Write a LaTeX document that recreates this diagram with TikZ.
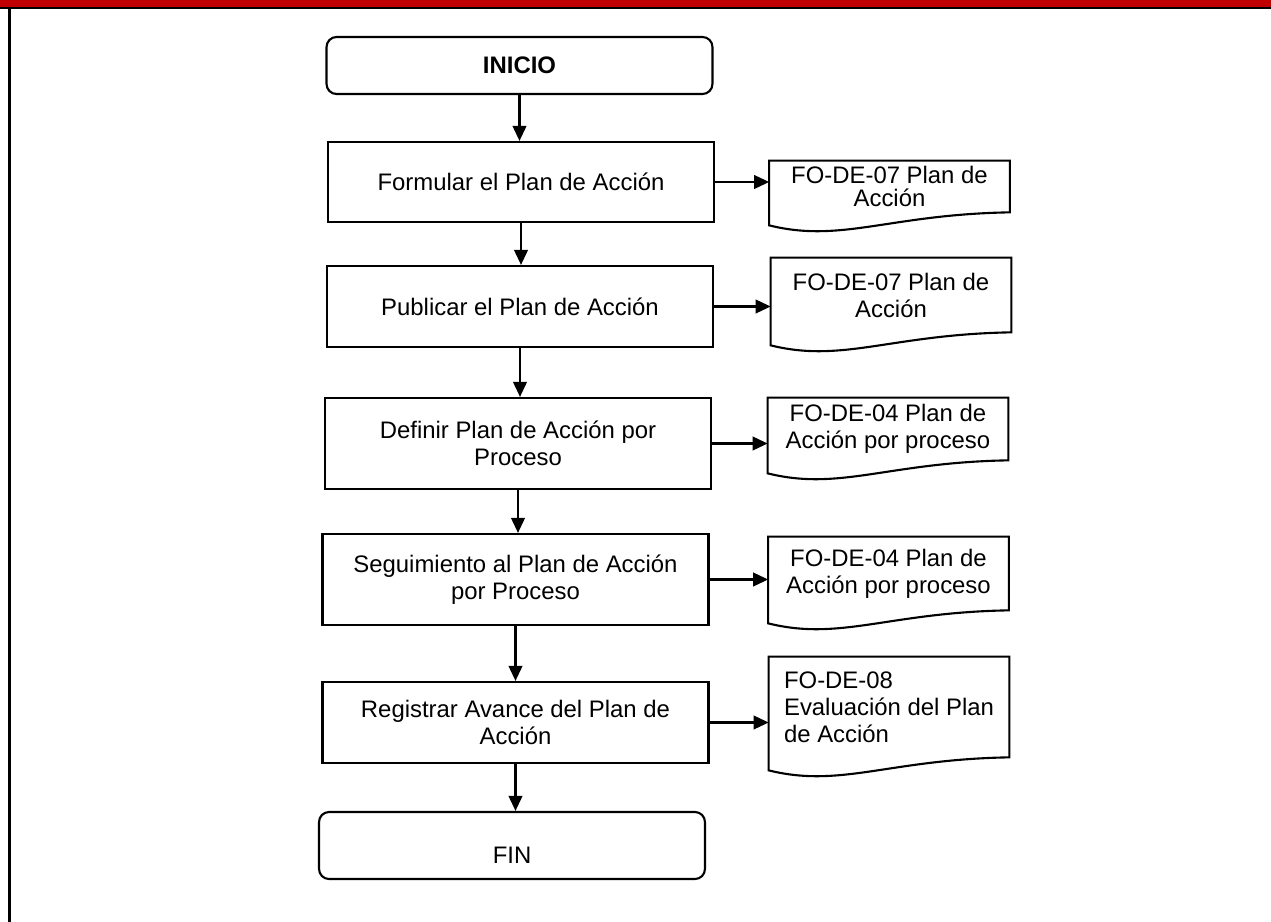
\documentclass[tikz,border=0pt]{standalone}
\usepackage{fontspec}
\setmainfont{Liberation Sans}
\usetikzlibrary{arrows.meta, calc}

\definecolor{barred}{HTML}{C00000}

\begin{document}
\begin{tikzpicture}[x=0.02cm, y=-0.02cm,
        every node/.style={font=\fontsize{13.6}{15.4}\selectfont},
        paso/.style={rectangle, draw, line width=1.2pt, minimum width=7.72cm, align=center, inner sep=2pt},
        terminal/.style={paso, rounded corners=0.2cm},
        docu/.style={rectangle, minimum width=4.8cm, align=center, inner sep=2pt},
        flecha/.style={-{Triangle[length=0.3cm, width=0.27cm]}, line width=1.3pt}
    ]
        \useasboundingbox (0,0) rectangle (1271,922);
        % red heading bar and left rule
        \fill[barred] (0,0) rectangle (1271,7);
        \draw[line width=1.2pt] (0,8) -- (1271,8);
        \draw[line width=1.2pt] (9.5,8) -- (9.5,922);

        \node[terminal, minimum height=1.14cm] (inicio) at (519.5,65.5) {\textbf{INICIO}};
        \node[paso, minimum height=1.6cm] (formular) at (521,182) {Formular el Plan de Acción};
        \node[paso, minimum height=1.62cm] (publicar) at (520,306.5) {Publicar el Plan de Acción};
        \node[paso, minimum height=1.82cm] (definir) at (518,443.5) {Definir Plan de Acción por\\Proceso};
        \node[paso, minimum height=1.82cm] (seguir) at (515.5,579.5) {Seguimiento al Plan de Acción\\por Proceso};
        \node[paso, minimum height=1.62cm] (registrar) at (515.5,722.5) {Registrar Avance del Plan de\\Acción};
        \node[terminal, minimum height=1.34cm, text height=0.7cm] (fin) at (512,845.5) {FIN};

        \node[docu, minimum height=1.02cm, font=\fontsize{13.6}{13.4}\selectfont] (doc1) at (889.5,186.5) {FO-DE-07 Plan de\\Acción};
        \node[docu, minimum height=1.48cm] (doc2) at (891,295) {FO-DE-07 Plan de\\Acción};
        \node[docu, minimum height=1.24cm] (doc3) at (888,429) {FO-DE-04 Plan de\\Acción por proceso};
        \node[docu, minimum height=1.46cm] (doc4) at (888.5,573.5) {FO-DE-04 Plan de\\Acción por proceso};
        \node[docu, align=left, minimum height=2cm] (doc5) at (889,707) {FO-DE-08\\Evaluación del Plan\\de Acción};

        % document outlines with wavy bottom
        \foreach \d in {doc1,doc2,doc3,doc4,doc5}
            \draw[line width=1.2pt] (\d.north west) -- (\d.north east) -- (\d.south east)
                .. controls ($(\d.south)+(0,2)$) and ($(\d.south west)+(72,31)$) .. ($(\d.south west)+(0,13)$) -- cycle;

        \draw[flecha] (inicio.south) -- (inicio.south |- formular.north);
        \draw[flecha] (formular.south) -- (formular.south |- publicar.north);
        \draw[flecha] (publicar.south) -- (publicar.south |- definir.north);
        \draw[flecha] (definir.south) -- (definir.south |- seguir.north);
        \draw[flecha] (seguir.south) -- (seguir.south |- registrar.north);
        \draw[flecha] (registrar.south) -- (registrar.south |- fin.north);

        \draw[flecha] (formular.east) -- (formular.east -| doc1.west);
        \draw[flecha] (publicar.east) -- (publicar.east -| doc2.west);
        \draw[flecha] (definir.east) -- (definir.east -| doc3.west);
        \draw[flecha] (seguir.east) -- (seguir.east -| doc4.west);
        \draw[flecha] (registrar.east) -- (registrar.east -| doc5.west);
    \end{tikzpicture}
\end{document}
